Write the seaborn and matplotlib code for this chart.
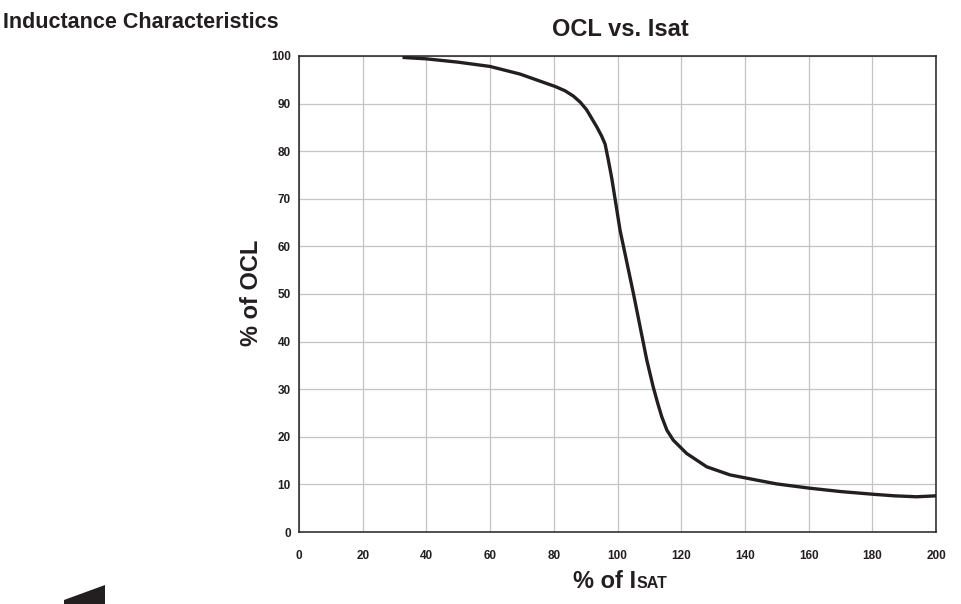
import matplotlib
matplotlib.use("Agg")
import matplotlib.pyplot as plt
from matplotlib.patches import Polygon
import seaborn as sns
import pandas as pd

# ---- data ----
isat_pct = [32.5, 40, 50, 60, 69.4, 80.4, 83.5, 86.1, 88.3, 90.3, 93.5, 95.0, 96.1, 97.1, 98.2,
            100.8, 105, 109.2, 111.2, 112.6, 113.9, 115.5, 117.5, 121.7, 128, 135.3, 143.7,
            150, 160.4, 170, 180.8, 187, 193.9, 200]
ocl_pct = [99.7, 99.4, 98.7, 97.8, 96.2, 93.6, 92.7, 91.6, 90.3, 88.7, 85.1, 83.2, 81.5, 78.2, 74.3,
           63.4, 50.1, 36.1, 30.5, 27.1, 24.2, 21.4, 19.3, 16.5, 13.7, 12.0, 10.9,
           10.1, 9.2, 8.5, 7.9, 7.6, 7.4, 7.6]
x_ticks = [0, 20, 40, 60, 80, 100, 120, 140, 160, 180, 200]
y_ticks = [0, 10, 20, 30, 40, 50, 60, 70, 80, 90, 100]

df = pd.DataFrame({"isat": isat_pct, "ocl": ocl_pct})

sns.set_theme(style="white")
plt.rcParams["font.family"] = ["Liberation Sans", "DejaVu Sans"]
plt.rcParams["font.weight"] = "bold"

INK = "#231f20"
fig = plt.figure(figsize=(9.62, 6.04), dpi=100)
ax = fig.add_axes([0.3108, 0.1192, 0.6622, 0.7881])

sns.lineplot(data=df, x="isat", y="ocl", ax=ax, color=INK, linewidth=2.4,
             estimator=None, sort=True)
ax.lines[0].set_solid_joinstyle("round")
ax.lines[0].set_solid_capstyle("butt")

ax.set_xlim(0, 200)
ax.set_ylim(0, 100)
ax.set_xticks(x_ticks)
ax.set_yticks(y_ticks)
ax.set_xticklabels([str(v) for v in x_ticks], fontsize=8.5, fontweight="bold", color=INK)
ax.set_yticklabels([str(v) for v in y_ticks], fontsize=8.5, fontweight="bold", color=INK)
ax.tick_params(axis="x", length=0, pad=13)
ax.tick_params(axis="y", length=0, pad=6)
ax.grid(True, color="#c4c4c4", linewidth=0.9)
for s in ax.spines.values():
    s.set_color(INK)
    s.set_linewidth(1.1)

ax.set_xlabel("")
ax.set_ylabel("")
fig.text(0.2616, 0.5157, "% of OCL", rotation=90, fontsize=17, fontweight="bold",
         color=INK, ha="center", va="center")

# x label "% of I" + small-caps "SAT" sharing the baseline
t = fig.text(573 / 962, 0.018, "% of I", fontsize=17, fontweight="bold", color=INK,
             ha="left", va="bottom")
ax.annotate("SAT", xy=(1, 0), xycoords=t, xytext=(0.3, 1.3), textcoords="offset points",
            fontsize=11.5, fontweight="bold", color=INK, ha="left", va="bottom",
            annotation_clip=False)

fig.text(620 / 962, 0.951, "OCL vs. Isat", fontsize=17, fontweight="bold", color=INK,
         ha="center", va="center")
fig.text(0.003, 0.963, "Inductance Characteristics", fontsize=15.5, fontweight="bold",
         color=INK, ha="left", va="center")

# decorative wedge at lower left
fig.patches.append(Polygon([(64/962, 0), (64/962, 4/604), (105/962, 19/604), (105/962, 0)],
                           closed=True, transform=fig.transFigure, facecolor=INK,
                           edgecolor="none"))

fig.savefig("out.png", dpi=100)
